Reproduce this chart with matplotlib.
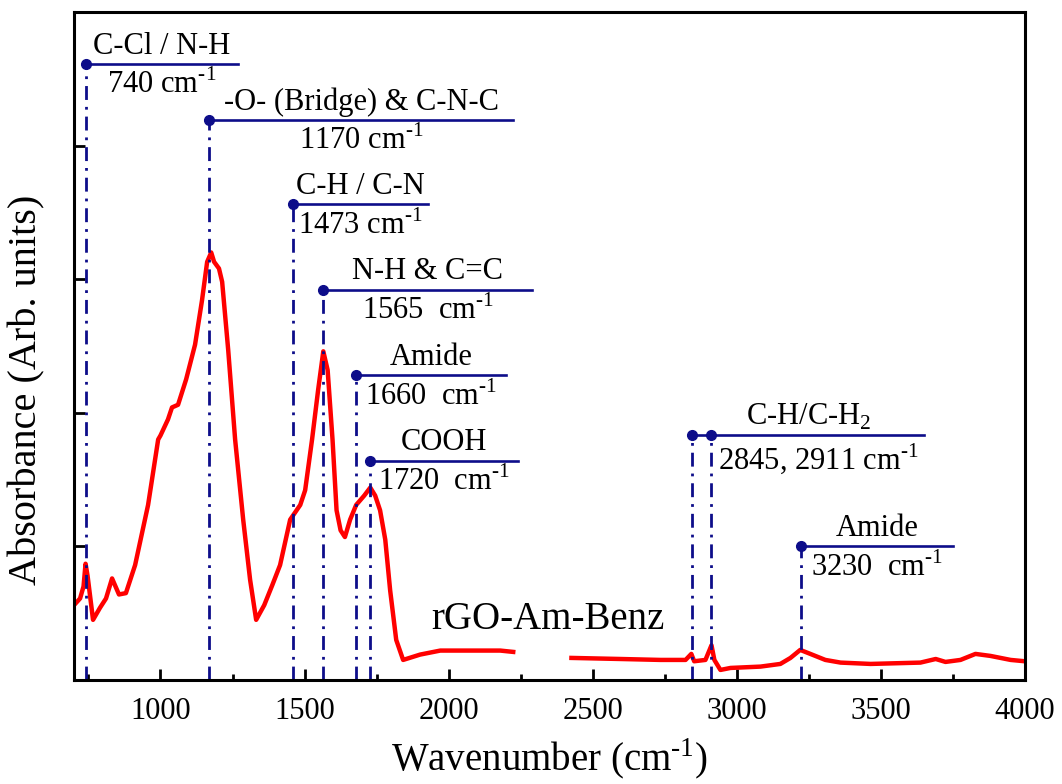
import matplotlib
matplotlib.use("Agg")
import matplotlib.pyplot as plt
import numpy as np

plt.rcParams["font.family"] = ["Liberation Serif", "DejaVu Serif"]
plt.rcParams["mathtext.fontset"] = "custom"
plt.rcParams["mathtext.rm"] = "Liberation Serif"

# spectrum, low wavenumber segment (cm-1, absorbance arb. units)
wn_low = [700, 721, 733, 740, 747, 766, 790, 811, 832, 856, 880, 912, 957, 992,
          1000, 1026, 1040, 1061, 1089, 1120, 1144, 1162, 1176, 1186, 1203, 1214,
          1235, 1259, 1287, 1311, 1332, 1360, 1388, 1415, 1450, 1485, 1502, 1526,
          1547, 1565, 1580, 1597, 1611, 1625, 1640, 1658, 1679, 1707, 1728, 1745,
          1762, 1780, 1797, 1818, 1842, 1901, 1971, 2075, 2179, 2224]
ab_low = [0.56, 0.61, 0.70, 0.87, 0.78, 0.45, 0.54, 0.61, 0.76, 0.64, 0.65, 0.86,
          1.31, 1.80, 1.83, 1.95, 2.04, 2.06, 2.25, 2.51, 2.84, 3.13, 3.20, 3.13,
          3.08, 2.98, 2.47, 1.80, 1.20, 0.75, 0.45, 0.56, 0.71, 0.86, 1.20, 1.31,
          1.42, 1.80, 2.17, 2.46, 2.32, 1.80, 1.27, 1.12, 1.07, 1.20, 1.31, 1.38,
          1.44, 1.38, 1.27, 1.05, 0.67, 0.30, 0.15, 0.19, 0.22, 0.22, 0.22, 0.21]

# spectrum, high wavenumber segment
wn_high = [2426, 2596, 2735, 2822, 2842, 2852, 2891, 2912, 2922, 2943, 2978, 3082,
           3151, 3186, 3220, 3255, 3307, 3360, 3464, 3637, 3690, 3724, 3776, 3828,
           3880, 3950, 3999]
ab_high = [0.165, 0.157, 0.15, 0.15, 0.195, 0.14, 0.15, 0.26, 0.15, 0.075, 0.09,
           0.10, 0.12, 0.165, 0.225, 0.195, 0.15, 0.13, 0.12, 0.13, 0.157, 0.135,
           0.15, 0.195, 0.18, 0.15, 0.14]

# band assignments
band_pos = [[740], [1170], [1460], [1565], [1679], [1728], [2846, 2912], [3224]]
band_names = ["C-Cl / N-H", "-O- (Bridge) & C-N-C", "C-H / C-N", "N-H & C=C",
              "Amide", "COOH", r"C-H/C-H$_{\mathregular{2}}$", "Amide"]
band_values = ["740 cm", "1170 cm", "1473 cm", "1565  cm", "1660  cm",
               "1720  cm", "2845, 2911 cm", "3230  cm"]

# layout of the annotation brackets (height, right end of line)
levels = [4.61, 4.19, 3.56, 2.92, 2.28, 1.64, 1.83, 1.00]
line_ends = [1269, 2224, 1929, 2290, 2200, 2242, 3651, 3749]

blue = "#0d0d8a"
sup = r"$^{\mathregular{\text{-}1}}$"

fig = plt.figure(figsize=(10.62, 7.84), dpi=100)
ax = fig.add_axes([0.0697, 0.1327, 0.8955, 0.852])

ax.plot(wn_low, ab_low, color="red", lw=3.2, solid_joinstyle="round")
ax.plot(wn_high, ab_high, color="red", lw=3.2, solid_joinstyle="round")

for pos, name, val, lev, end in zip(band_pos, band_names, band_values,
                                    levels, line_ends):
    for p in pos:
        ax.plot([p, p], [0, lev], color=blue, lw=2,
                linestyle=(0, (5, 2.5, 1, 2.5)))
        ax.plot(p, lev, "o", color=blue, ms=7)
    ax.plot([pos[0], end], [lev, lev], color=blue, lw=1.9)
    ax.annotate(name, ((pos[0] + end) / 2, lev), xytext=(0, 2.5),
                textcoords="offset points", ha="center", va="bottom",
                fontsize=22)
    ax.annotate(val + sup, ((pos[-1] + end) / 2, lev), xytext=(0, -4),
                textcoords="offset points", ha="center", va="top", fontsize=22)

ax.text(2346, 0.45, "rGO-Am-Benz", fontsize=28, ha="center", va="center")

ax.set_xlim(700, 4000)
ax.set_ylim(0, 5)
ax.set_xticks(np.arange(1000, 4001, 500))
ax.set_xticks(np.arange(750, 4000, 250), minor=True)
ax.set_yticks([1, 2, 3, 4])
ax.set_yticklabels([])
ax.tick_params(axis="both", which="major", direction="in", length=8, width=2,
               labelsize=22, pad=12)
ax.tick_params(axis="both", which="minor", direction="in", length=4.5, width=2)
for s in ax.spines.values():
    s.set_linewidth(2.2)

ax.set_xlabel("Wavenumber (cm" + sup + ")", fontsize=28, labelpad=8)
ax.set_ylabel("Absorbance (Arb. units)", fontsize=29)
ax.yaxis.set_label_coords(-0.03, 0.435)

fig.savefig("out.png", dpi=100)
